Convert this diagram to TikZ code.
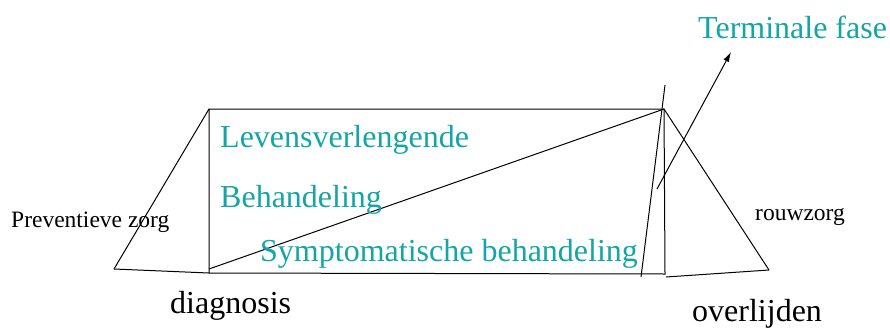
\documentclass[tikz,border=0pt]{standalone}
\usepackage{fontspec}
\setmainfont{Liberation Serif}
\usepackage{tikz}
\usetikzlibrary{arrows.meta}
\definecolor{tealtext}{RGB}{20,165,165}
\tikzset{
  fase/.style={anchor=base west, text=tealtext, inner sep=0pt, font=\fontsize{32}{38}\selectfont},
  zorg/.style={anchor=base west, inner sep=0pt, font=\fontsize{23.5}{28}\selectfont},
  mijl/.style={anchor=base west, inner sep=0pt, font=\fontsize{32}{38}\selectfont},
  lijn/.style={line width=1pt}
}

\begin{document}
\begin{tikzpicture}[x=1pt,y=-1pt]
\useasboundingbox (0,0) rectangle (890,329);

\coordinate (pl) at (114,269) {};
\coordinate (lb) at (209,273) {};
\coordinate (lt) at (209,109) {};
\coordinate (rt) at (664,109) {};
\coordinate (rb) at (665,274) {};
\coordinate (dl) at (209,269) {};
%
\coordinate (st) at (665,85) {};
\coordinate (sb) at (641,277) {};
\coordinate (ob) at (666,277) {};
\coordinate (rr) at (769,270) {};
%
\coordinate (pa) at (657,189) {};
\coordinate (pe) at (731,52) {};

%outer lines
\draw [lijn]	(pl)--(lb);	 %pl--lb
\draw [lijn]	(pl)--(lt);	 %pl--lt
\draw [lijn]	(lb)--(lt)--(rt)--(rb)--cycle;	 %rectangle
\draw [lijn]	(dl)--(rt);	 %diagonal
%
\draw [lijn]	(st)--(sb);	 %st--sb
\draw [lijn]	(rt)--(rr);	 %rt--rr
\draw [lijn]	(ob)--(rr);	 %ob--rr
\draw [lijn, -{Latex[length=10pt,width=6pt]}]	(pa)--(pe);	 %arrow

%labels
\node[fase] (levens) at (220,147) {Levensverlengende};
\node[fase] (behand) at (220,207) {Behandeling};
\node[fase] (sympt) at (260,261) {Symptomatische behandeling};
\node[fase] (term) at (698,38) {Terminale fase};
%
\node[zorg] (prev) at (11,227) {Preventieve zorg};
\node[zorg] (rouw) at (755,220) {rouwzorg};
%
\node[mijl] (diag) at (170,313) {diagnosis};
\node[mijl] (overl) at (692,321) {overlijden};

\end{tikzpicture}
\end{document}
